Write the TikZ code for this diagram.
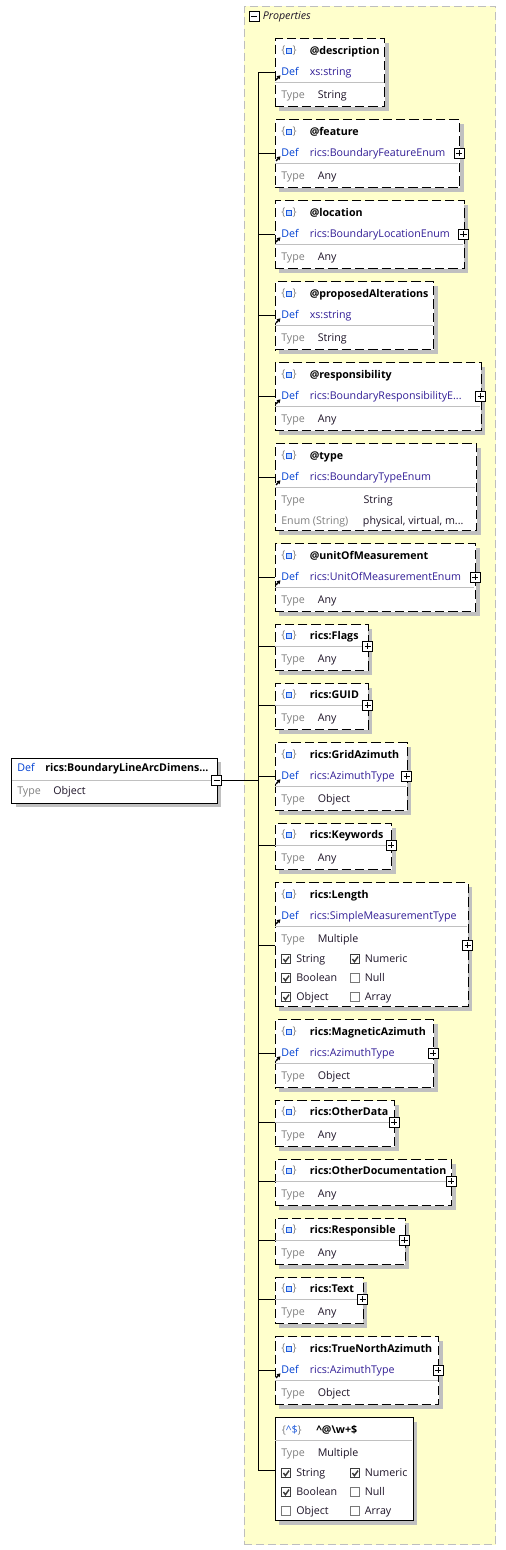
\documentclass[tikz,border=0pt]{standalone}
\usepackage{fontspec}
\setmainfont{Open Sans}
\usetikzlibrary{arrows.meta,shadows}

\definecolor{panelfill}{RGB}{255,255,204}
\definecolor{panelline}{RGB}{190,190,190}
\definecolor{shadowgray}{RGB}{192,192,192}
\definecolor{sepgray}{RGB}{192,192,192}
\definecolor{labelgray}{RGB}{128,128,128}
\definecolor{defblue}{RGB}{0,64,210}
\definecolor{typeblue}{RGB}{50,30,150}
\definecolor{valuedark}{RGB}{30,20,40}
\definecolor{iconblue}{RGB}{30,90,220}
\definecolor{iconfill}{RGB}{190,215,255}
\definecolor{chkdark}{RGB}{60,60,60}
\definecolor{chkgray}{RGB}{120,120,120}

\newcommand{\basefont}{\fontsize{8}{10}\selectfont}

\tikzset{
  every node/.style={font=\basefont},
  box/.style={draw, fill=white, line width=0.75pt, dash pattern=on 7pt off 3pt,
    anchor=north west, inner sep=0pt,
    drop shadow={shadow xshift=3pt, shadow yshift=-3pt, fill=shadowgray, opacity=1}},
  panel/.style={draw=panelline, fill=panelfill, line width=0.75pt, dash pattern=on 6pt off 3pt,
    anchor=north west, inner sep=0pt},
  txt/.style={anchor=west, inner sep=0pt, text height=6pt, text depth=1.8pt},
  title/.style={txt, font=\basefont\bfseries},
  deflabel/.style={txt, text=defblue},
  defvalue/.style={txt, text=typeblue},
  typelabel/.style={txt, text=labelgray},
  typevalue/.style={txt, text=valuedark},
  sepline/.style={draw=sepgray, line width=0.75pt},
  wire/.style={draw, line width=0.75pt},
  defarrow/.style={-{Triangle[length=2.6pt,width=3pt]}, line width=1pt},
  plusbox/.style={draw, solid, fill=white, line width=0.75pt, minimum size=7.5pt, inner sep=0pt,
    path picture={\draw[line width=0.75pt]
      ([yshift=-1.4pt]path picture bounding box.north) -- ([yshift=1.4pt]path picture bounding box.south)
      ([xshift=1.4pt]path picture bounding box.west) -- ([xshift=-1.4pt]path picture bounding box.east);}},
  minusbox/.style={draw, solid, fill=white, line width=0.75pt, minimum size=7.5pt, inner sep=0pt,
    path picture={\draw[line width=0.75pt]
      ([xshift=1.4pt]path picture bounding box.west) -- ([xshift=-1.4pt]path picture bounding box.east);}},
  chkoff/.style={draw=chkgray, fill=white, line width=0.75pt, minimum size=6.75pt, inner sep=0pt},
  chkon/.style={chkoff, draw=chkdark,
    path picture={\draw[line width=1.1pt]
      ([shift={(1.3pt,3.6pt)}]path picture bounding box.south west) --
      ([shift={(2.8pt,1.6pt)}]path picture bounding box.south west) --
      ([shift={(5.5pt,5.4pt)}]path picture bounding box.south west);}},
  pics/attricon/.style={code={
    \node[txt, anchor=center, text=labelgray] (-braces) at (0,0) {\{\hspace{5.5pt}\}};
    \draw[draw=iconblue, fill=iconfill, line width=0.75pt] (-2.6,-2.2) rectangle (2.6,2.2);}}
}

% box with a Def row: name, top, right, title, def, type
\newcommand{\defbox}[6]{%
  \node[box, minimum width={(#3-274.5)*0.75pt}, minimum height=51pt] (#1) at (274.5,#2) {};
  \draw[sepline] (275.2,#2+44) -- (#3-0.7,#2+44);
  \pic (#1-icon) at (289,#2+12.5) {attricon};
  \node[title] (#1-title) at (309.5,#2+13) {#4};
  \node[deflabel] (#1-deflabel) at (281,#2+34) {Def};
  \node[defvalue] (#1-def) at (309.5,#2+34) {#5};
  \node[typelabel] (#1-typelabel) at (281,#2+57) {Type};
  \node[typevalue] (#1-type) at (317.5,#2+57) {#6};
  \draw[defarrow] (276,#2+41.5) -- (280.5,#2+37);
  \coordinate (#1-in) at (274.5,#2+34);
}
% box with a Type row only: name, top, right, title, type
\newcommand{\anybox}[5]{%
  \node[box, minimum width={(#3-274.5)*0.75pt}, minimum height=34.5pt] (#1) at (274.5,#2) {};
  \draw[sepline] (275.2,#2+22) -- (#3-0.7,#2+22);
  \pic (#1-icon) at (289,#2+11.5) {attricon};
  \node[title] (#1-title) at (309.5,#2+12) {#4};
  \node[typelabel] (#1-typelabel) at (281,#2+35) {Type};
  \node[typevalue] (#1-type) at (317.5,#2+35) {#5};
  \coordinate (#1-in) at (274.5,#2+22);
}

\begin{document}
\begin{tikzpicture}[x=0.75pt, y=-0.75pt]
\useasboundingbox (0,0) rectangle (506,1550);
\fill[white] (0,0) rectangle (506,1550);

% properties panel
\node[panel, minimum width={251.5*0.75pt}, minimum height={1538.5*0.75pt}] (props) at (243.5,5.5) {};
\node[minusbox] (props-minus) at (254,16.5) {};
\node[txt, font=\basefont\itshape, text=valuedark] (props-title) at (262.5,16.5) {Properties};

% trunk
\coordinate (trunk-top) at (258,72.3);
\coordinate (trunk-bot) at (258,1470);
\draw[wire] (trunk-top) -- (trunk-bot);

% root element
\node[box, solid, minimum width={205.7*0.75pt}, minimum height={45*0.75pt}] (root) at (11,757.7) {};
\draw[sepline] (11.7,780) -- (216,780);
\node[deflabel] (root-deflabel) at (17,769) {Def};
\node[title] (root-def) at (45,769) {rics:BoundaryLineArcDimens...};
\node[typelabel] (root-typelabel) at (17,792) {Type};
\node[typevalue] (root-type) at (53,792) {Object};
\node[minusbox] (root-minus) at (216.7,780) {};
\draw[wire] (root-minus.east) -- (root-minus.east -| trunk-top);

% properties
\defbox{desc}{38.3}{384.3}{@description}{xs:string}{String}
\defbox{feat}{119.3}{459}{@feature}{rics:BoundaryFeatureEnum}{Any}
\node[plusbox] (feat-plus) at (459,153.3) {};
\defbox{loc}{200.3}{463.5}{@location}{rics:BoundaryLocationEnum}{Any}
\node[plusbox] (loc-plus) at (463.5,234.3) {};
\defbox{prop}{281.3}{433.3}{@proposedAlterations}{xs:string}{String}
\defbox{resp}{362.3}{480.7}{@responsibility}{rics:BoundaryResponsibilityE...}{Any}
\node[plusbox] (resp-plus) at (480.7,396.3) {};

% @type with enumeration row
\node[box, minimum width={201.5*0.75pt}, minimum height={87*0.75pt}] (type) at (274.5,443.3) {};
\draw[sepline] (275.2,487.3) -- (475.3,487.3);
\pic (type-icon) at (289,455.8) {attricon};
\node[title] (type-title) at (309.5,456.3) {@type};
\node[deflabel] (type-deflabel) at (281,477.3) {Def};
\node[defvalue] (type-def) at (309.5,477.3) {rics:BoundaryTypeEnum};
\node[typelabel] (type-typelabel) at (281,500.3) {Type};
\node[typevalue] (type-type) at (363.3,500.3) {String};
\node[typelabel] (type-enumlabel) at (281,521.3) {Enum (String)};
\node[typevalue] (type-enum) at (362.7,521.3) {physical, virtual, m...};
\draw[defarrow] (276,484.8) -- (280.5,480.3);
\coordinate (type-in) at (274.5,477.3);

\defbox{unit}{543.3}{475}{@unitOfMeasurement}{rics:UnitOfMeasurementEnum}{Any}
\node[plusbox] (unit-plus) at (475,577.3) {};
\anybox{flags}{624.3}{367.7}{rics:Flags}{Any}
\node[plusbox] (flags-plus) at (367.7,646.3) {};
\anybox{guid}{683.3}{367.7}{rics:GUID}{Any}
\node[plusbox] (guid-plus) at (367.7,705.3) {};
\defbox{grid}{742.3}{406.7}{rics:GridAzimuth}{rics:AzimuthType}{Object}
\node[plusbox] (grid-plus) at (406.7,776.3) {};
\anybox{keyw}{823.3}{391}{rics:Keywords}{Any}
\node[plusbox] (keyw-plus) at (391,845.3) {};

% rics:Length with checkboxes
\node[box, minimum width={193.2*0.75pt}, minimum height={124*0.75pt}] (len) at (274.5,882.3) {};
\draw[sepline] (275.2,926.3) -- (467,926.3);
\pic (len-icon) at (289,894.8) {attricon};
\node[title] (len-title) at (309.5,895.3) {rics:Length};
\node[deflabel] (len-deflabel) at (281,916.3) {Def};
\node[defvalue] (len-def) at (309.5,916.3) {rics:SimpleMeasurementType};
\node[typelabel] (len-typelabel) at (281,939.3) {Type};
\node[typevalue] (len-type) at (317.5,939.3) {Multiple};
\draw[defarrow] (276,923.8) -- (280.5,919.3);
\node[chkon] (len-c1) at (286.2,959.3) {};
\node[typevalue] (len-t1) at (296,959.3) {String};
\node[chkon] (len-c2) at (355.2,959.3) {};
\node[typevalue] (len-t2) at (364.5,959.3) {Numeric};
\node[chkon] (len-c3) at (286.2,978.3) {};
\node[typevalue] (len-t3) at (296,978.3) {Boolean};
\node[chkoff] (len-c4) at (355.2,978.3) {};
\node[typevalue] (len-t4) at (364.5,978.3) {Null};
\node[chkon] (len-c5) at (286.2,997.3) {};
\node[typevalue] (len-t5) at (296,997.3) {Object};
\node[chkoff] (len-c6) at (355.2,997.3) {};
\node[typevalue] (len-t6) at (364.5,997.3) {Array};
\node[plusbox] (len-plus) at (467.7,945.3) {};
\coordinate (len-in) at (274.5,945.3);

\defbox{magn}{1019.3}{433.3}{rics:MagneticAzimuth}{rics:AzimuthType}{Object}
\node[plusbox] (magn-plus) at (433.3,1053.3) {};
\anybox{odata}{1100.3}{394}{rics:OtherData}{Any}
\node[plusbox] (odata-plus) at (394,1122.3) {};
\anybox{odoc}{1159.3}{451}{rics:OtherDocumentation}{Any}
\node[plusbox] (odoc-plus) at (451,1181.3) {};
\anybox{respn}{1218.3}{404.5}{rics:Responsible}{Any}
\node[plusbox] (respn-plus) at (404.5,1240.3) {};
\anybox{text}{1277.3}{362.7}{rics:Text}{Any}
\node[plusbox] (text-plus) at (362.7,1299.3) {};
\defbox{tnorth}{1336.3}{438.3}{rics:TrueNorthAzimuth}{rics:AzimuthType}{Object}
\node[plusbox] (tnorth-plus) at (438.3,1370.3) {};

% pattern property
\node[box, solid, minimum width={138.2*0.75pt}, minimum height={103*0.75pt}] (patt) at (274.5,1417.3) {};
\draw[sepline] (275.2,1440.3) -- (412,1440.3);
\node[txt, text=labelgray] (patt-icon) at (281.5,1430.3) {\{\textcolor{iconblue}{\textasciicircum\$}\}};
\node[title] (patt-title) at (316,1430.8) {\textasciicircum @\textbackslash w+\$};
\node[typelabel] (patt-typelabel) at (281,1453.3) {Type};
\node[typevalue] (patt-type) at (317.5,1453.3) {Multiple};
\node[chkon] (patt-c1) at (286.2,1473.3) {};
\node[typevalue] (patt-t1) at (296,1473.3) {String};
\node[chkon] (patt-c2) at (355.2,1473.3) {};
\node[typevalue] (patt-t2) at (364.5,1473.3) {Numeric};
\node[chkon] (patt-c3) at (286.2,1492.3) {};
\node[typevalue] (patt-t3) at (296,1492.3) {Boolean};
\node[chkoff] (patt-c4) at (355.2,1492.3) {};
\node[typevalue] (patt-t4) at (364.5,1492.3) {Null};
\node[chkoff] (patt-c5) at (286.2,1511.3) {};
\node[typevalue] (patt-t5) at (296,1511.3) {Object};
\node[chkoff] (patt-c6) at (355.2,1511.3) {};
\node[typevalue] (patt-t6) at (364.5,1511.3) {Array};
\coordinate (patt-in) at (274.5,1470);

% connectors from the trunk
\foreach \p in {desc,feat,loc,prop,resp,type,unit,flags,guid,grid,keyw,len,magn,odata,odoc,respn,text,tnorth,patt}
  \draw[wire] (\p-in -| trunk-top) -- (\p-in);

\end{tikzpicture}
\end{document}
